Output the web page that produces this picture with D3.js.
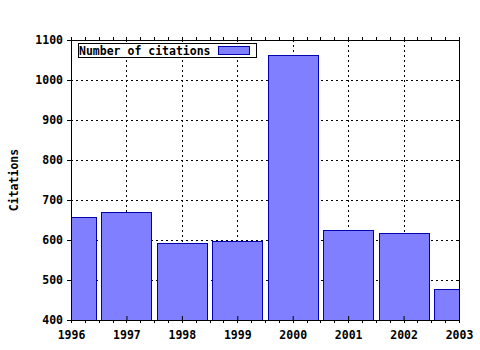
<!DOCTYPE html>
<html>
<head>
<meta charset="utf-8">
<script src="https://cdn.jsdelivr.net/npm/d3@7"></script>
<style>
	body { margin:0; background:#fff; }
	svg text { font-family:"DejaVu Sans Mono", monospace; font-weight:bold; font-size:11.5px; fill:#000; }
</style>
</head>
<body>
<svg id="svg" width="480" height="350"></svg>
<script>
// data
const years = [1996, 1997, 1998, 1999, 2000, 2001, 2002, 2003];
const citations = [657, 670, 593, 598, 1062, 626, 618, 477];
const yTicks = [400, 500, 600, 700, 800, 900, 1000, 1100];
const seriesName = "Number of citations";
const yTitle = "Citations";

const dims = { width: 480, height: 350 };
const margins = { left: 71, right: 21, top: 40, bottom: 30 };

let xScale = d3.scaleLinear()
	.domain([1996, 2003])
	.range([margins.left, dims.width - margins.right]);
let yScale = d3.scaleLinear()
	.domain([400, 1100])
	.range([dims.height - margins.bottom, margins.top]);

let mySvg = d3.select('#svg');
let x0 = xScale.range()[0], x1 = xScale.range()[1];
let y0 = yScale.range()[0], y1 = yScale.range()[1];

// clip for bars
mySvg.append("clipPath").attr("id", "plot")
	.append("rect")
	.attr("x", x0).attr("y", y1)
	.attr("width", x1 - x0).attr("height", y0 - y1);

// grid
let grid = mySvg.append("g")
	.attr("stroke", "#000")
	.attr("stroke-width", 1)
	.attr("stroke-dasharray", "2,3")
	.attr("shape-rendering", "crispEdges");
grid.selectAll(".gx").data(years.slice(1, -1)).enter().append("line")
	.attr("x1", d => Math.round(xScale(d)) + 0.5).attr("x2", d => Math.round(xScale(d)) + 0.5)
	.attr("y1", y1).attr("y2", y0);
grid.selectAll(".gy").data(yTicks.slice(1, -1)).enter().append("line")
	.attr("x1", x0).attr("x2", x1)
	.attr("y1", d => Math.round(yScale(d)) + 0.5).attr("y2", d => Math.round(yScale(d)) + 0.5);

// bars
const bw = 0.9;
mySvg.append("g").attr("clip-path", "url(#plot)")
	.selectAll("rect").data(years).enter().append("rect")
	.attr("x", (d, i) => Math.round(xScale(d - bw / 2)) + 0.5)
	.attr("width", (d, i) => Math.round(xScale(d + bw / 2) - xScale(d - bw / 2)))
	.attr("y", (d, i) => Math.round(yScale(citations[i])) + 0.5)
	.attr("height", (d, i) => y0 - Math.round(yScale(citations[i])))
	.attr("fill", "#7f7fff")
	.attr("stroke", "#0000b0")
	.attr("stroke-width", 1);

// axes: bottom/left with labels, top/right mirrored
let xAxis = d3.axisBottom(xScale).tickValues(years).tickFormat(d3.format("d")).tickSize(-4).tickPadding(11);
let yAxis = d3.axisLeft(yScale).tickValues(yTicks).tickFormat(d3.format("d")).tickSize(4).tickPadding(4);
let minorX = d3.range(1996, 2003.01, 0.25);

mySvg.append("g")
	.attr('transform', `translate(0, ${y0})`)
	.call(xAxis)
	.call(g => g.select(".domain").remove());
mySvg.append("g")
	.attr('transform', `translate(${x0}, 0)`)
	.call(yAxis)
	.call(g => g.select(".domain").remove());

mySvg.selectAll(".tick text")
	.attr("font-family", null).attr("font-size", null);

// minor ticks on bottom and top
mySvg.append("g").selectAll("line").data(minorX).enter().append("line")
	.attr("x1", d => Math.round(xScale(d)) + 0.5).attr("x2", d => Math.round(xScale(d)) + 0.5)
	.attr("y1", y0).attr("y2", y0 + 3)
	.attr("stroke", "#000");
mySvg.append("g").selectAll("line").data(minorX).enter().append("line")
	.attr("x1", d => Math.round(xScale(d)) + 0.5).attr("x2", d => Math.round(xScale(d)) + 0.5)
	.attr("y1", y1).attr("y2", y1 - 3)
	.attr("stroke", "#000");
// right ticks
mySvg.append("g").selectAll("line").data(yTicks).enter().append("line")
	.attr("x1", x1 - 3).attr("x2", x1)
	.attr("y1", d => Math.round(yScale(d)) + 0.5).attr("y2", d => Math.round(yScale(d)) + 0.5)
	.attr("stroke", "#000");

// border
mySvg.append("rect")
	.attr("x", x0 + 0.5).attr("y", y1 + 0.5)
	.attr("width", x1 - x0).attr("height", y0 - y1)
	.attr("fill", "none").attr("stroke", "#000");

// y title
mySvg.append("text")
	.attr("transform", `translate(18, ${(y0 + y1) / 2}) rotate(-90)`)
	.attr("text-anchor", "middle")
	.text(yTitle);

// legend
let lg = mySvg.append("g");
lg.append("rect")
	.attr("x", 78.5).attr("y", 43.5).attr("width", 178).attr("height", 14)
	.attr("fill", "#fff").attr("stroke", "#000");
lg.append("text")
	.attr("x", 79).attr("y", 54.5)
	.text(seriesName);
lg.append("rect")
	.attr("x", 218.5).attr("y", 46.5).attr("width", 31).attr("height", 8)
	.attr("fill", "#7f7fff").attr("stroke", "#0000b0");
</script>
</body>
</html>
